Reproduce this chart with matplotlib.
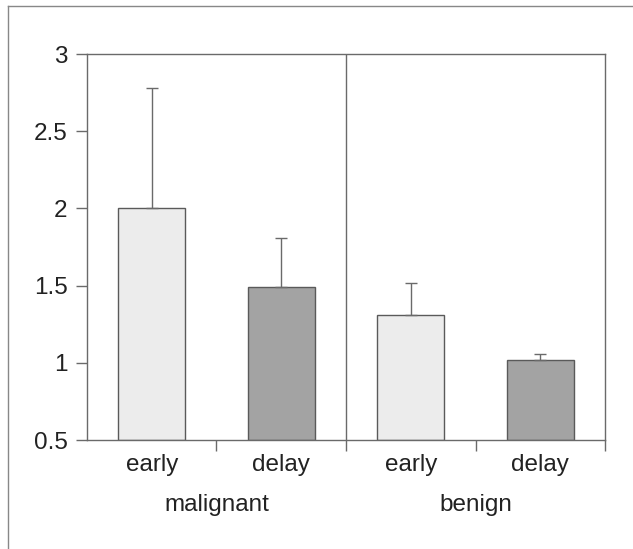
import matplotlib

matplotlib.use("Agg", force=True)
import matplotlib.pyplot as plt
from matplotlib.lines import Line2D

categories = ["early", "delay", "early", "delay"]
groups = ["malignant", "benign"]
values = [2.0, 1.49, 1.31, 1.02]
errors = [0.78, 0.32, 0.21, 0.04]
yticks = [0.5, 1, 1.5, 2, 2.5, 3]
ytick_labels = ["0.5", "1", "1.5", "2", "2.5", "3"]

bar_colors = ["#ececec", "#a3a3a3", "#ececec", "#a3a3a3"]
line_col = "#6a6a6a"
fs = 17.5

plt.rcParams["font.family"] = ["Liberation Sans", "DejaVu Sans"]

fig = plt.figure(figsize=(6.33, 5.49), dpi=100)
ax = fig.add_axes([0.1374, 0.1985, 0.8184, 0.7031])

x = list(range(len(values)))
ax.bar(x, [v - 0.5 for v in values], bottom=0.5, width=0.52,
       color=bar_colors, edgecolor="#5a5a5a", linewidth=1.0, zorder=2)
ax.errorbar(x, values, yerr=[[0] * len(errors), errors], fmt="none",
            ecolor=line_col, elinewidth=1.0, capsize=4, capthick=1.0, zorder=3)

ax.set_xlim(-0.5, 3.5)
ax.set_ylim(0.5, 3)
ax.set_yticks(yticks)
ax.set_yticklabels(ytick_labels)
ax.set_xticks(x)
ax.set_xticklabels(categories)
ax.set_xticks([0.5, 1.5, 2.5, 3.5], minor=True)
ax.tick_params(axis="x", which="major", length=0, pad=10, labelsize=fs, colors="#222222")
ax.tick_params(axis="x", which="minor", length=8, width=1, color=line_col)
ax.tick_params(axis="y", length=8, width=1, color=line_col, labelsize=fs,
               labelcolor="#222222", pad=6)

for s in ax.spines.values():
    s.set_color(line_col)
    s.set_linewidth(1.0)

# separator between groups
ax.axvline(1.5, color=line_col, linewidth=1.0, zorder=1)

# group labels
for i, g in enumerate(groups):
    ax.text(0.5 + 2 * i, -0.168, g, transform=ax.get_xaxis_transform(),
            ha="center", va="center", fontsize=fs, color="#222222")

# outer frame (top and left only, as in the scan)
fig.add_artist(Line2D([8 / 633, 1.0], [1 - 6 / 549, 1 - 6 / 549],
                      transform=fig.transFigure, color="#888888", linewidth=1.0))
fig.add_artist(Line2D([8 / 633, 8 / 633], [0.0, 1 - 6 / 549],
                      transform=fig.transFigure, color="#888888", linewidth=1.0))

fig.savefig("out.png", dpi=100, facecolor="white")
